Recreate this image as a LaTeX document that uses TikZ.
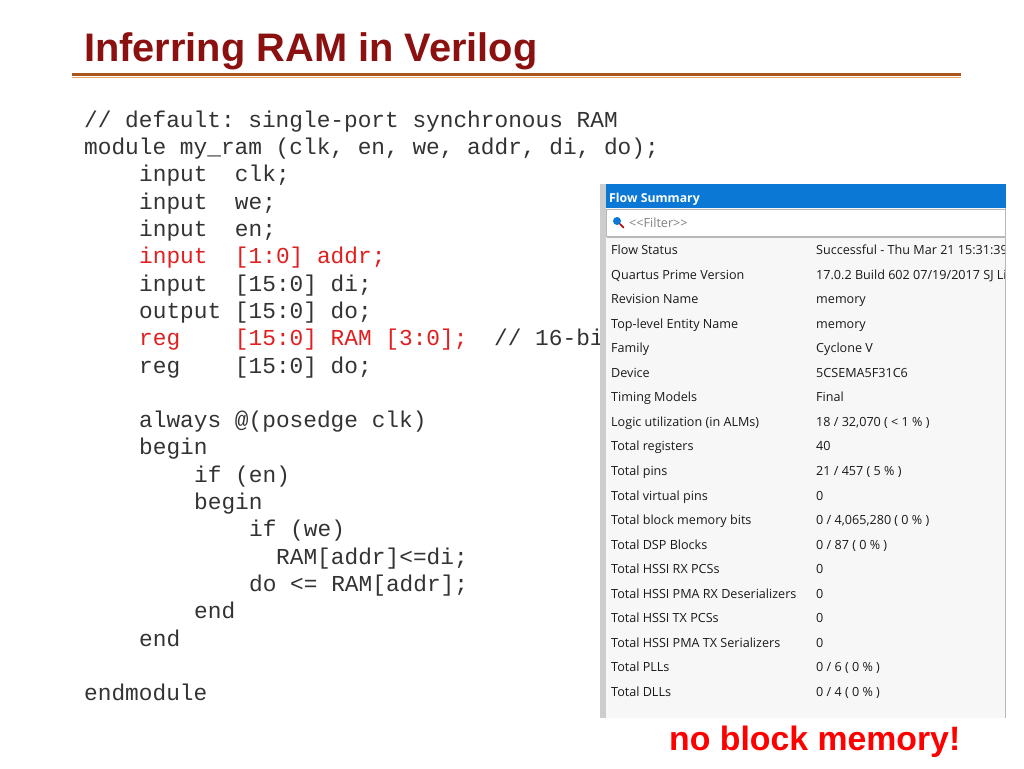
\documentclass[tikz,border=0pt]{standalone}
\usepackage{fontspec}
\setmainfont{Liberation Sans}
\setmonofont{Liberation Mono}
\newfontfamily\panelfont{Open Sans}
\usetikzlibrary{positioning}
\definecolor{titlered}{HTML}{8B1010}
\definecolor{rulebrown}{HTML}{A8561E}
\definecolor{ruleorange}{HTML}{E9A46A}
\definecolor{codegray}{HTML}{333333}
\definecolor{codered}{HTML}{E02020}
\definecolor{winblue}{HTML}{0A78D4}
\definecolor{framegray}{HTML}{B8B8B8}
\definecolor{panelbg}{HTML}{F7F7F7}
\tikzset{
  codeline/.style={anchor=base west, inner sep=0, font=\ttfamily\fontsize{22.8}{24}\selectfont, text=codegray},
  redline/.style={codeline, text=codered},
  rowkey/.style={anchor=base west, inner sep=0, font=\panelfont\fontsize{12.6}{14}\selectfont, text=black!90},
  rowval/.style={rowkey}
}
\begin{document}
\begin{tikzpicture}[x=1pt,y=-1pt]
\useasboundingbox[fill=white] (0,0) rectangle (1024,768);
% title and rule
\node[anchor=base west, inner sep=0, font=\bfseries\fontsize{39.8}{42}\selectfont, text=titlered] (title) at (84,62) {Inferring RAM in Verilog};
\fill[rulebrown] (72,72.5) rectangle (961,75.5);
\fill[ruleorange] (72,76.5) rectangle (961,78);
% code
\node[codeline] (c1) at (84,127) {//~default:~single-port~synchronous~RAM};
\node[codeline] (c2) at (84,154) {module~my\_ram~(clk,~en,~we,~addr,~di,~do);};
\node[codeline] (c3) at (139,181) {input~~clk;};
\node[codeline] (c4) at (139,209) {input~~we;};
\node[codeline] (c5) at (139,236) {input~~en;};
\node[redline] (c6) at (139,263) {input~~[1:0]~addr;};
\node[codeline] (c7) at (139,291) {input~~[15:0]~di;};
\node[codeline] (c8) at (139,318) {output~[15:0]~do;};
\node[redline] (c9) at (139,345) {reg~~~~[15:0]~RAM~[3:0];};
\begin{scope}
  \clip (480,320) rectangle (600,360);
  \node[codeline] (c9b) at (494,345) {//~16-bit~wide};
\end{scope}
\node[codeline] (c10) at (139,373) {reg~~~~[15:0]~do;};
\node[codeline] (c11) at (139,427) {always~@(posedge~clk)};
\node[codeline] (c12) at (139,454) {begin};
\node[codeline] (c13) at (194,482) {if~(en)};
\node[codeline] (c14) at (194,509) {begin};
\node[codeline] (c15) at (249,536) {if~(we)};
\node[codeline] (c16) at (276,564) {RAM[addr]<=di;};
\node[codeline] (c17) at (249,591) {do~<=~RAM[addr];};
\node[codeline] (c18) at (194,618) {end};
\node[codeline] (c19) at (139,646) {end};
\node[codeline] (c20) at (84,700) {endmodule};
% report panel
\fill[panelbg] (600,184) rectangle (1006,718);
\fill[framegray!70] (600,184) rectangle (606,718);
\draw[framegray] (1005.5,208) -- (1005.5,718);
\fill[winblue] (606,184) rectangle (1006,208);
\node[anchor=base west, inner sep=0, font=\panelfont\bfseries\fontsize{12.3}{14}\selectfont, text=white] (head) at (609,202) {Flow Summary};
\draw[framegray, fill=white] (606.5,209.5) rectangle (1005.5,236.5);
\fill[winblue] (617,221) circle (4);
\draw[red!70!black, line width=1.6pt, line cap=round] (620,224) -- (623.5,227.5);
\node[anchor=base west, inner sep=0, font=\panelfont\fontsize{12.6}{14}\selectfont, text=black!50] (filter) at (629,227) {<{}<Filter>{}>};
\draw[framegray] (607,237.5) -- (1005,237.5);
\foreach \k/\v [count=\i from 0] in {
  Flow Status/Successful - Thu Mar 21 15:31:39,
  Quartus Prime Version/{17.0.2 Build 602 07/19/2017 SJ Lite},
  Revision Name/memory,
  Top-level Entity Name/memory,
  Family/Cyclone V,
  Device/5CSEMA5F31C6,
  Timing Models/Final,
  Logic utilization (in ALMs)/{18 / 32{,}070 ( < 1 \% )},
  Total registers/40,
  Total pins/{21 / 457 ( 5 \% )},
  Total virtual pins/0,
  Total block memory bits/{0 / 4{,}065{,}280 ( 0 \% )},
  Total DSP Blocks/{0 / 87 ( 0 \% )},
  Total HSSI RX PCSs/0,
  Total HSSI PMA RX Deserializers/0,
  Total HSSI TX PCSs/0,
  Total HSSI PMA TX Serializers/0,
  Total PLLs/{0 / 6 ( 0 \% )},
  Total DLLs/{0 / 4 ( 0 \% )}}
{
  \node[rowkey] (key\i) at (611,254.5+24.55*\i) {\k};
  \begin{scope}
    \clip (810,240) rectangle (1004,718);
    \node[rowval] (val\i) at (816,254.5+24.55*\i) {\v};
  \end{scope}
}
% remark
\node[anchor=base west, inner sep=0, font=\bfseries\fontsize{33.8}{36}\selectfont, text=red] (remark) at (669,750) {no block memory!};
\end{tikzpicture}
\end{document}
